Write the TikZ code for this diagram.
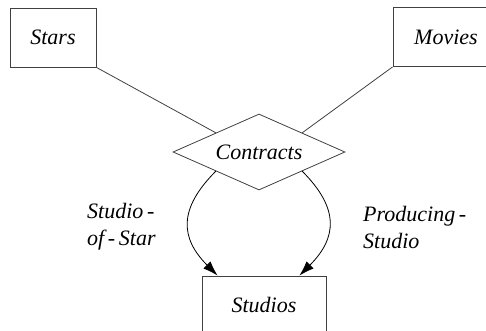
\documentclass[tikz,border=0pt]{standalone}
\usepackage{fontspec}
\setmainfont{Liberation Serif}
\newfontfamily\erfont{Liberation Serif Italic}
\usepackage{tikz}
\usetikzlibrary{shapes.geometric, arrows.meta}

\tikzstyle{entity} = [rectangle, 
minimum width=86pt, 
minimum height=59pt, 
inner sep=0pt,
text centered, 
line width=0.8pt,
draw=black!75]
\tikzstyle{relation} = [diamond, 
minimum width=172pt, 
minimum height=76pt, 
inner sep=0pt,
line width=0.8pt,
draw=black!75]
\tikzstyle{rolename} = [anchor=west, align=left, inner sep=0pt]
\tikzstyle{link} = [line width=0.8pt, draw=black!75]
\tikzstyle{arrow} = [line width=0.8pt, ->, >={Latex[length=15pt,width=10pt]}]

\begin{document}
\begin{tikzpicture}[x=1pt, y=1pt, font=\erfont\fontsize{22}{27}\selectfont]
		\clip (0,0) rectangle (486,330);
		
		\node (stars) [entity] at (53,292.5) {Stars};
		\node (movies) [entity, minimum width=106pt] at (446,293) {Movies};
		
		\node (contracts) [relation] at (259,178) {\makebox[0pt]{Contracts}};
		
		\node (studios) [entity, minimum width=124pt, minimum height=58pt] at (264,25) {Studios};
		
		\node (sos) [rolename] at (87,103) {Studio\,-\\of\,-\,Star};
		\node (ps) [rolename] at (363,103) {Producing\,-\\Studio};

		\draw [link] (stars.south east) -- (contracts.north west);
		\draw [link] (movies.south west) -- (contracts.north east);
		\draw [arrow] (contracts.south west) to[out=225, in=135, looseness=1.3] ([xshift=16pt]studios.north west);
		\draw [arrow] (contracts.south east) to[out=-45, in=45, looseness=1.3] ([xshift=-27pt]studios.north east);
		
	\end{tikzpicture}
\end{document}
